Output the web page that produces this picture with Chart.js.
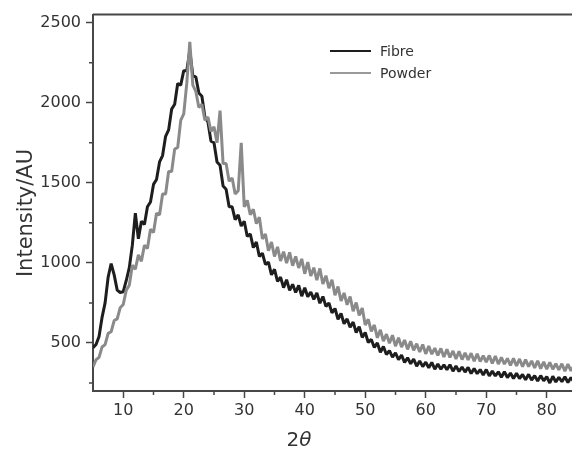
<!DOCTYPE html>
<html>
<head>
<meta charset="utf-8">
<script src="https://cdn.jsdelivr.net/npm/chart.js@4.4.1/dist/chart.umd.min.js"></script>
<style>
  html, body { margin: 0; padding: 0; background: #fff; overflow: hidden; }
  #wrap { width: 572px; height: 456px; overflow: hidden; }
</style>
</head>
<body>
<div id="wrap"><canvas id="xrd" width="580" height="456"></canvas></div>
<script>
// ---------- DATA ----------
const seriesNames = ["Fibre", "Powder"];

const twoTheta = [
  5, 5.5, 6, 6.5, 7, 7.5, 8, 8.5, 9, 9.5,
  10, 10.5, 11, 11.5, 12, 12.5, 13, 13.5, 14, 14.5,
  15, 15.5, 16, 16.5, 17, 17.5, 18, 18.5, 19, 19.5,
  20, 20.5, 21, 21.5, 22, 22.5, 23, 23.5, 24, 24.5,
  25, 25.5, 26, 26.5, 27, 27.5, 28, 28.5, 29, 29.5,
  30, 30.5, 31, 31.5, 32, 32.5, 33, 33.5, 34, 34.5,
  35, 35.5, 36, 36.5, 37, 37.5, 38, 38.5, 39, 39.5,
  40, 40.5, 41, 41.5, 42, 42.5, 43, 43.5, 44, 44.5,
  45, 45.5, 46, 46.5, 47, 47.5, 48, 48.5, 49, 49.5,
  50, 50.5, 51, 51.5, 52, 52.5, 53, 53.5, 54, 54.5,
  55, 55.5, 56, 56.5, 57, 57.5, 58, 58.5, 59, 59.5,
  60, 60.5, 61, 61.5, 62, 62.5, 63, 63.5, 64, 64.5,
  65, 65.5, 66, 66.5, 67, 67.5, 68, 68.5, 69, 69.5,
  70, 70.5, 71, 71.5, 72, 72.5, 73, 73.5, 74, 74.5,
  75, 75.5, 76, 76.5, 77, 77.5, 78, 78.5, 79, 79.5,
  80, 80.5, 81, 81.5, 82, 82.5, 83, 83.5, 84, 84.5,
  85
];

const fibre = [
  470, 490, 540, 660, 750, 910, 995, 925, 830, 815,
  820, 890, 970, 1110, 1310, 1150, 1260, 1240, 1350, 1380,
  1490, 1520, 1630, 1670, 1790, 1830, 1960, 1990, 2120, 2110,
  2200, 2200, 2325, 2170, 2160, 2060, 2040, 1910, 1880, 1760,
  1750, 1630, 1610, 1480, 1460, 1350, 1350, 1270, 1300, 1230,
  1260, 1165, 1180, 1095, 1130, 1040, 1060, 990, 1005, 925,
  960, 885, 910, 845, 895, 828, 866, 815, 860, 792,
  845, 788, 818, 772, 812, 748, 790, 728, 750, 688,
  715, 648, 684, 620, 650, 598, 630, 565, 602, 535,
  565, 503, 522, 472, 500, 442, 478, 428, 452, 412,
  438, 395, 425, 378, 408, 370, 400, 355, 388, 352,
  380, 345, 378, 336, 368, 336, 364, 332, 364, 324,
  356, 322, 350, 318, 348, 309, 340, 308, 334, 300,
  334, 294, 324, 294, 320, 286, 320, 284, 312, 278,
  310, 278, 303, 270, 304, 268, 296, 262, 296, 264,
  290, 250, 292, 256, 286, 258, 289, 253, 284, 256,
  285
];

const powder = [
  350, 395, 410, 475, 490, 560, 570, 640, 650, 720,
  740, 830, 860, 985, 960, 1050, 1010, 1110, 1090, 1210,
  1190, 1310, 1300, 1430, 1430, 1570, 1570, 1710, 1720, 1890,
  1930, 2120, 2380, 2110, 2070, 1970, 1990, 1890, 1910, 1820,
  1850, 1750, 1950, 1620, 1620, 1510, 1530, 1430, 1450, 1750,
  1350, 1390, 1300, 1335, 1245, 1285, 1150, 1180, 1075, 1130,
  1040, 1100, 1012, 1070, 998, 1065, 982, 1040, 968, 1025,
  932, 1005, 918, 970, 892, 965, 868, 920, 842, 895,
  798, 852, 762, 812, 738, 790, 698, 752, 672, 718,
  612, 648, 572, 612, 532, 582, 512, 555, 498, 548,
  480, 532, 474, 518, 460, 510, 454, 495, 444, 490,
  432, 480, 430, 468, 422, 466, 412, 460, 410, 450,
  400, 448, 396, 438, 394, 436, 386, 432, 384, 420,
  380, 422, 372, 418, 368, 410, 368, 404, 360, 404,
  356, 400, 352, 396, 352, 388, 344, 388, 340, 382,
  336, 378, 336, 370, 332, 370, 324, 368, 326, 360,
  322
];

const xTicks = [10, 20, 30, 40, 50, 60, 70, 80];
const xMinorTicks = [15, 25, 35, 45, 55, 65, 75];
const yTicks = [500, 1000, 1500, 2000, 2500];
const yMinorTicks = [250, 750, 1250, 1750, 2250];

// ---------- STYLE ----------
const AXIS_COLOR = "#474747";
const TEXT_COLOR = "#333333";
const FONT = "'DejaVu Sans', 'Liberation Sans', sans-serif";
const FIBRE_COLOR = "#1e1e1e";
const POWDER_COLOR = "#8a8a8a";

function toPoints(ys) {
  return twoTheta.map((x, i) => ({ x: x, y: ys[i] }));
}

// minor ticks, top frame, legend, axis titles
const decorPlugin = {
  id: "decor",
  afterDraw(chart) {
    const ctx = chart.ctx;
    const area = chart.chartArea;
    const xs = chart.scales.x;
    const ys = chart.scales.y;
    ctx.save();
    ctx.strokeStyle = AXIS_COLOR;
    ctx.lineWidth = 2;
    // top frame
    ctx.beginPath();
    ctx.moveTo(area.left, area.top);
    ctx.lineTo(area.right, area.top);
    ctx.stroke();
    // minor ticks
    ctx.lineWidth = 1.5;
    ctx.beginPath();
    xMinorTicks.forEach(v => {
      const px = xs.getPixelForValue(v);
      ctx.moveTo(px, area.bottom);
      ctx.lineTo(px, area.bottom + 4);
    });
    yMinorTicks.forEach(v => {
      const py = ys.getPixelForValue(v);
      ctx.moveTo(area.left, py);
      ctx.lineTo(area.left - 4, py);
    });
    ctx.stroke();

    // legend
    const legendColors = [FIBRE_COLOR, "#9a9a9a"];
    ctx.font = "14px " + FONT;
    ctx.textBaseline = "middle";
    ctx.textAlign = "left";
    seriesNames.forEach((name, i) => {
      const y = 51 + i * 22;
      ctx.strokeStyle = legendColors[i];
      ctx.lineWidth = 2;
      ctx.beginPath();
      ctx.moveTo(330, y);
      ctx.lineTo(371, y);
      ctx.stroke();
      ctx.fillStyle = TEXT_COLOR;
      ctx.fillText(name, 380, y + 1);
    });

    // y title
    ctx.fillStyle = TEXT_COLOR;
    ctx.save();
    ctx.translate(27, 213);
    ctx.rotate(-Math.PI / 2);
    ctx.textAlign = "center";
    ctx.textBaseline = "middle";
    ctx.font = "21px " + FONT;
    ctx.fillText("Intensity/AU", 0, 0);
    ctx.restore();

    // x title: upright 2, italic theta
    ctx.textAlign = "left";
    ctx.textBaseline = "alphabetic";
    ctx.font = "20px " + FONT;
    const w2 = ctx.measureText("2").width;
    ctx.font = "italic 20px " + FONT;
    const wt = ctx.measureText("\u03B8").width;
    const startX = 299 - (w2 + wt) / 2;
    ctx.font = "20px " + FONT;
    ctx.fillText("2", startX, 446);
    ctx.font = "italic 20px " + FONT;
    ctx.fillText("\u03B8", startX + w2, 446);
    ctx.restore();
  }
};

// ---------- CHART ----------
new Chart(document.getElementById("xrd").getContext("2d"), {
  type: "line",
  data: {
    datasets: [
      {
        label: seriesNames[0],
        data: toPoints(fibre),
        borderColor: FIBRE_COLOR,
        borderWidth: 3,
        borderJoinStyle: "bevel",
        pointRadius: 0,
        tension: 0,
        order: 1
      },
      {
        label: seriesNames[1],
        data: toPoints(powder),
        borderColor: POWDER_COLOR,
        borderWidth: 3,
        borderJoinStyle: "bevel",
        pointRadius: 0,
        tension: 0,
        order: 0
      }
    ]
  },
  options: {
    responsive: false,
    animation: false,
    layout: { padding: { top: 14, right: 3, left: 0, bottom: 0 } },
    plugins: {
      legend: { display: false },
      tooltip: { enabled: false }
    },
    scales: {
      x: {
        type: "linear",
        min: 5,
        max: 85,
        afterBuildTicks: s => { s.ticks = xTicks.map(v => ({ value: v })); },
        afterFit: s => { s.height = 65; },
        ticks: {
          color: TEXT_COLOR,
          font: { family: FONT, size: 16 },
          padding: 3,
          maxRotation: 0,
          callback: v => String(v)
        },
        grid: {
          drawOnChartArea: false,
          drawTicks: true,
          tickLength: 7,
          tickWidth: 1.5,
          tickColor: AXIS_COLOR
        },
        border: { color: AXIS_COLOR, width: 2 }
      },
      y: {
        min: 200,
        max: 2550,
        afterBuildTicks: s => { s.ticks = yTicks.map(v => ({ value: v })); },
        afterFit: s => { s.width = 93; },
        ticks: {
          color: TEXT_COLOR,
          font: { family: FONT, size: 16 },
          padding: 5,
          callback: v => String(v)
        },
        grid: {
          drawOnChartArea: false,
          drawTicks: true,
          tickLength: 7,
          tickWidth: 1.5,
          tickColor: AXIS_COLOR
        },
        border: { color: AXIS_COLOR, width: 2 }
      }
    }
  },
  plugins: [decorPlugin]
});
</script>
</body>
</html>
